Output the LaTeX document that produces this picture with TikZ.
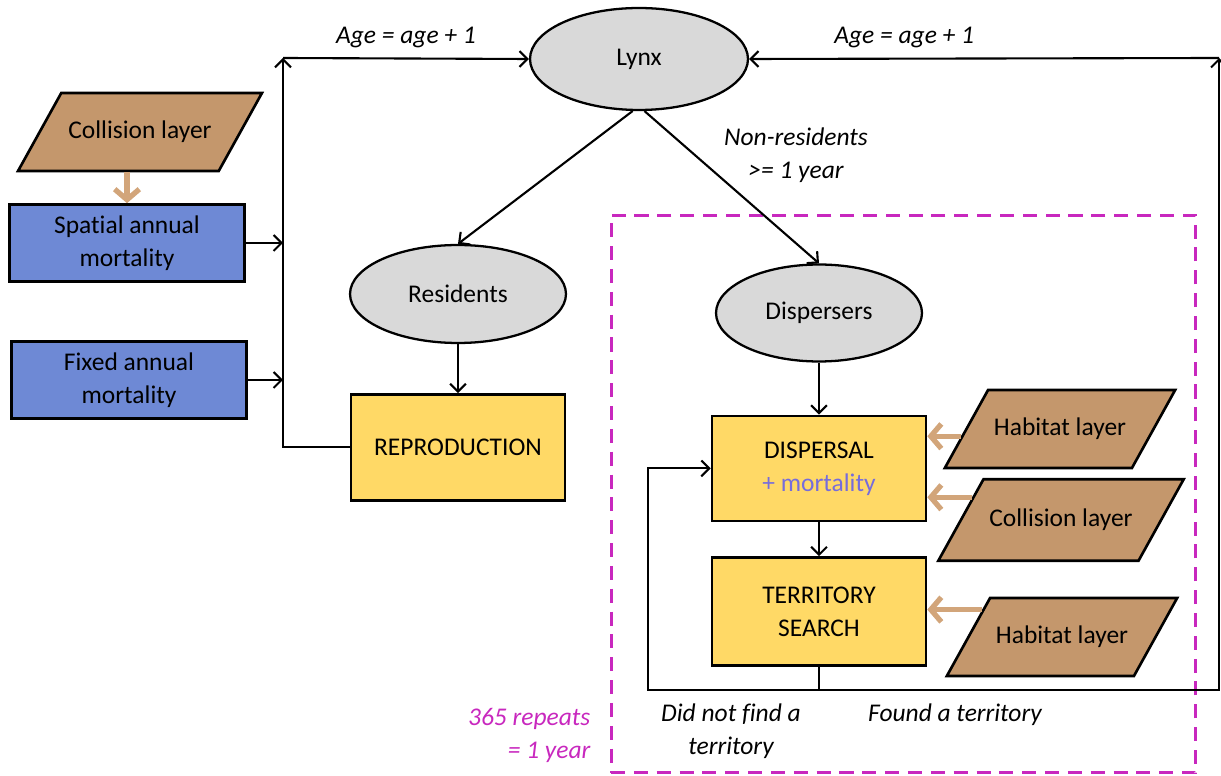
\documentclass[tikz,border=0pt]{standalone}
\usepackage{fontspec}
\setmainfont{Carlito}[Ligatures=NoCommon]
\usetikzlibrary{arrows.meta, positioning, shapes.geometric, calc}
\definecolor{mortblue}{RGB}{110,137,213}
\definecolor{stepyellow}{RGB}{255,217,102}
\definecolor{lynxgrey}{RGB}{217,217,217}
\definecolor{layertan}{RGB}{196,151,108}
\definecolor{feedtan}{RGB}{210,165,122}
\definecolor{loopmagenta}{RGB}{200,40,190}
\definecolor{mortpurple}{RGB}{118,108,220}

\begin{document}
\begin{tikzpicture}[
    x=0.02cm, y=-0.02cm,
    font=\fontsize{14.5}{18.7}\selectfont,
    mortbox/.style={
      rectangle,
      draw=black,
      line width=1.5pt,
      fill=mortblue,
      minimum width=4.7cm,
      minimum height=1.54cm,
      align=center
    },
    stepbox/.style={
      rectangle,
      draw=black,
      line width=1.5pt,
      fill=stepyellow,
      minimum width=4.28cm,
      minimum height=2.12cm,
      align=center
    },
    state/.style={
      ellipse,
      draw=black,
      line width=1.3pt,
      fill=lynxgrey,
      align=center
    },
    layer/.style={
      trapezium,
      trapezium left angle=61,
      trapezium right angle=119,
      trapezium stretches body,
      draw=black,
      line width=1.5pt,
      fill=layertan,
      inner ysep=16pt,
      minimum width=4.48cm
    },
    arrow/.style={
      -{Straight Barb[length=4.5pt,width=9pt]},
      line width=1.2pt
    },
    feed/.style={
      -{Straight Barb[length=6pt,width=14pt]},
      line width=3pt,
      feedtan
    },
    lbl/.style={
      font=\fontsize{14.5}{18.7}\selectfont\itshape,
      align=center
    }
  ]
    \useasboundingbox (0,0) rectangle (1221,776);

    % Daily loop frame
    \node[draw=loopmagenta, line width=1.7pt, dash pattern=on 8pt off 5pt,
          minimum width=11.7cm, minimum height=11.16cm] (daily) at (903.5,494) {};
    \node[lbl, text=loopmagenta, align=right, anchor=south east]
      (repeats) at ([xshift=-0.26cm,yshift=0.12cm]daily.south west)
      {365 repeats\\= 1 year};

    % Annual mortality
    \node[layer, minimum width=4.88cm] (coll1) at (140,132) {Collision layer};
    \node[mortbox] (spatial) at (127,243) {Spatial annual\\mortality};
    \node[mortbox] (fixed) at (129,380) {Fixed annual\\mortality};

    % Population
    \node[state, minimum width=4.36cm, minimum height=2.04cm] (lynx) at (639,59) {Lynx};
    \node[state, minimum width=4.32cm, minimum height=1.96cm] (residents) at (458,294) {Residents};
    \node[state, minimum width=4.12cm, minimum height=1.94cm] (dispersers) at (819,313) {Dispersers};
    \node[stepbox, below=0.98cm of residents] (repro) {REPRODUCTION};

    % Dispersal
    \node[stepbox, minimum height=2.1cm, below=1.04cm of dispersers] (dispersal)
      {DISPERSAL\\\textcolor{mortpurple}{+ mortality}};
    \node[stepbox, minimum height=2.16cm, below=0.68cm of dispersal] (territory)
      {TERRITORY\\SEARCH};
    \node[layer] (hab1) at (1060,429) {Habitat layer};
    \node[layer, inner ysep=17pt] (coll2) at (1061,520) {Collision layer};
    \node[layer] (hab3) at (1062,637) {Habitat layer};

    \coordinate (topL) at (283,58);
    \coordinate (topR) at (1219,58);
    \coordinate (loopL) at (648,690);
    \coordinate (loopR) at (1219,690);

    % Connections
    \draw[feed] (spatial.north |- coll1.south) -- (spatial.north);
    \draw[arrow] (spatial.east) -- (spatial.east -| topL);
    \draw[arrow] (fixed.east) -- (fixed.east -| topL);
    \draw[arrow] (repro.west) -| (topL);
    \draw[arrow] (topL) -- node[lbl, above=2pt] {Age = age + 1} (lynx.west);
    \draw[arrow] (lynx.-97) -- (residents.north);
    \draw[arrow] (lynx.-84) -- (dispersers.north);
    \node[lbl] (nonres) at (796,155) {Non-residents\\>= 1 year};
    \draw[arrow] (residents) -- (repro);
    \draw[arrow] (dispersers.south) -- (dispersers.south |- dispersal.north);
    \draw[arrow] (dispersal) -- (territory);

    \draw[feed] ($(hab1.top left corner)!0.59!(hab1.bottom left corner)$) coordinate (h1)
      -- (h1 -| dispersal.east);
    \draw[feed] ($(coll2.top left corner)!0.23!(coll2.bottom left corner)$) coordinate (c2)
      -- (c2 -| dispersal.east);
    \draw[feed] ($(hab3.top left corner)!0.16!(hab3.bottom left corner)$) coordinate (h3)
      -- (h3 -| territory.east);

    \draw[line width=1.2pt] (territory.south) -- (territory.south |- loopL);
    \draw[arrow] (territory.south |- loopL) -- (loopL) |- (dispersal.west);
    \draw[arrow] (territory.south |- loopR) -- (loopR) -- (topR);
    \draw[arrow] (topR) -- node[lbl, above=2pt, pos=0.67] {Age = age + 1} (lynx.east);

    \node[lbl] (notfound) at (731,731) {Did not find a\\territory};
    \node[lbl] (found) at (955,715) {Found a territory};

  \end{tikzpicture}
\end{document}
